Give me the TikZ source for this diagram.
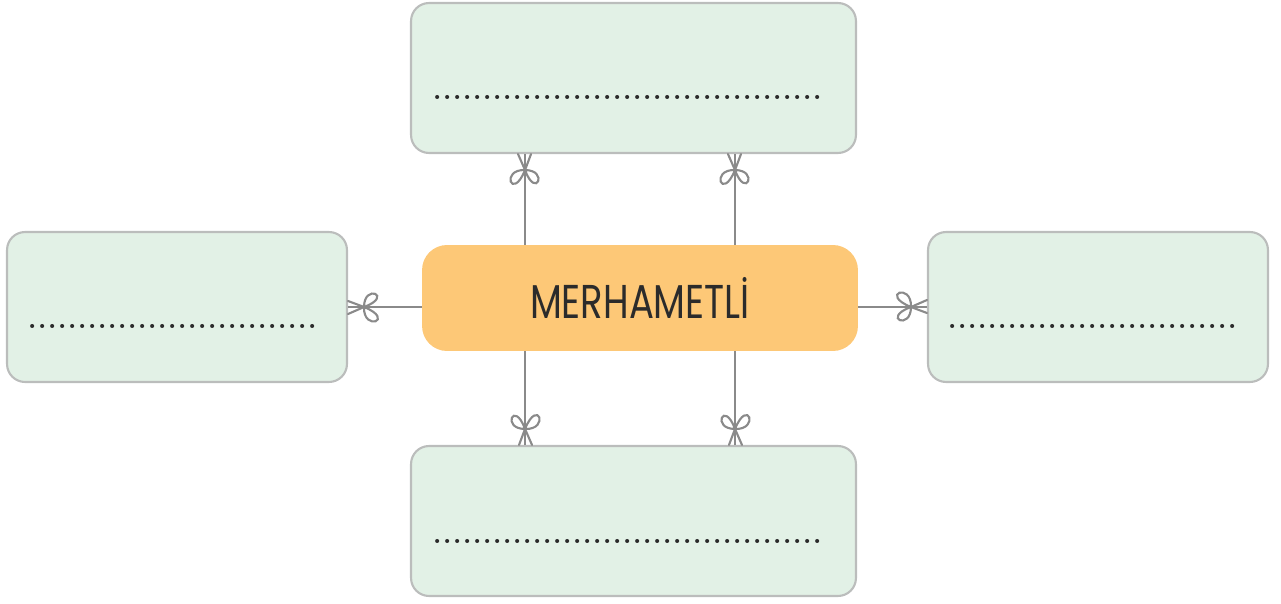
\documentclass[tikz,border=0pt]{standalone}
\usepackage{fontspec}
\newfontfamily\titlefont[FakeStretch=0.78]{Poppins}
\usetikzlibrary{positioning,decorations.markings}

\definecolor{boxgreen}{HTML}{E2F1E6}
\definecolor{boxgray}{HTML}{BBBDBC}
\definecolor{heartorange}{HTML}{FDC877}
\definecolor{linkgray}{HTML}{8A8A8A}
\definecolor{dotblack}{HTML}{2B2B2B}

\newcommand{\answerdots}[1]{\makebox[#1]{\leaders\hbox to 0.2cm{\hss.\hss}\hfill}}

\tikzset{
  answerbox/.style={draw=boxgray, fill=boxgreen, line width=1.2pt,
    rounded corners=0.36cm, minimum height=3cm},
  heartbox/.style={fill=heartorange, rounded corners=0.5cm,
    minimum width=8.72cm, minimum height=2.12cm,
    font=\titlefont\fontsize{27}{30}\selectfont, text=dotblack},
  dotline/.style={anchor=west, inner sep=0pt, text=dotblack,
    font=\bfseries\fontsize{16}{18}\selectfont},
  bowlink/.style={draw=linkgray, line width=1.1pt, postaction={decorate},
    decoration={markings, mark=at position 1 with {
      \draw[x=0.02cm, y=0.02cm, linkgray, line width=1.2pt, line cap=round]
        (-16,0) .. controls (-8,3) .. (0,7)
        (-16,0) .. controls (-8,-3) .. (0,-6)
        (-16,0) .. controls (-15,25) and (-48,13) .. (-16,0)
        (-16,0) .. controls (-16,-24) and (-46,-11) .. (-16,0);
    }}},
}

\begin{document}
\begin{tikzpicture}[x=0.02cm, y=0.02cm]
  \useasboundingbox (0,0) rectangle (1281,603);

  % answer boxes
  \node[answerbox, minimum width=8.9cm] (topbox) at (633.5,525) {};
  \node[answerbox, minimum width=8.9cm] (bottombox) at (633.5,82) {};
  \node[answerbox, minimum width=6.8cm] (leftbox) at (177,296) {};
  \node[answerbox, minimum width=6.8cm] (rightbox) at (1098,296) {};

  % dotted answer lines
  \node[dotline] (topdots) at ([xshift=0.44cm, yshift=-0.38cm]topbox.west) {\answerdots{7.9cm}};
  \node[dotline] (bottomdots) at ([xshift=0.44cm, yshift=-0.4cm]bottombox.west) {\answerdots{7.9cm}};
  \node[dotline] (leftdots) at ([xshift=0.42cm, yshift=-0.38cm]leftbox.west) {\answerdots{5.9cm}};
  \node[dotline] (rightdots) at ([xshift=0.4cm, yshift=-0.38cm]rightbox.west) {\answerdots{5.9cm}};

  % centre word
  \node[heartbox] (heart) at (640,305) {MERHAMETLİ};

  % links with bows
  \draw[bowlink] ([xshift=-2.3cm]heart.north) -- ([xshift=-2.3cm]heart.north |- topbox.south);
  \draw[bowlink] ([xshift=1.9cm]heart.north) -- ([xshift=1.9cm]heart.north |- topbox.south);
  \draw[bowlink] ([xshift=-2.3cm]heart.south) -- ([xshift=-2.3cm]heart.south |- bottombox.north);
  \draw[bowlink] ([xshift=1.9cm]heart.south) -- ([xshift=1.9cm]heart.south |- bottombox.north);
  \draw[bowlink] (leftbox.east -| heart.west) -- (leftbox.east);
  \draw[bowlink] (rightbox.west -| heart.east) -- (rightbox.west);
\end{tikzpicture}
\end{document}
